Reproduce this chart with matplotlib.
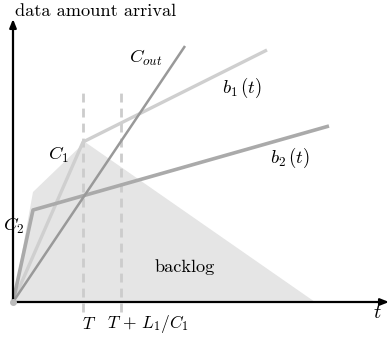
import matplotlib
matplotlib.use("Agg")
import matplotlib.pyplot as plt

plt.rcParams['mathtext.fontset'] = 'cm'
plt.rcParams['font.family'] = ['cmr10', 'DejaVu Serif']

# curves (t, data amount), origin at (0, 0)
b1_t = [0, 70, 254]
b1_y = [0, 160, 252]
b2_t = [0, 20, 316]
b2_y = [0, 92, 176]
cout_t = [0, 172]
cout_y = [0, 256]
backlog_t = [0, 20, 72, 302]
backlog_y = [0, 110, 160, 0]
T = 70
T_L = 108

fig = plt.figure(figsize=(3.9, 3.4), dpi=100)
ax = fig.add_axes([0, 0, 1, 1])
ax.set_xlim(-13, 377)
ax.set_ylim(-38, 302)
ax.axis('off')

ax.fill(backlog_t, backlog_y, color='#e5e5e5', lw=0, zorder=1)

for x in (T, T_L):
    ax.plot([x, x], [-10, 212], color='#cccccc', lw=2, ls=(0, (3.2, 2.2)), zorder=2)

ax.plot(b1_t, b1_y, color='#cfcfcf', lw=2.4, solid_capstyle='butt', zorder=3)
ax.plot(b2_t, b2_y, color='#aaaaaa', lw=2.6, solid_capstyle='butt', zorder=4)
ax.plot(cout_t, cout_y, color='#999999', lw=1.8, solid_capstyle='butt', zorder=5)

# axes arrows
arr = dict(arrowstyle='-|>,head_length=0.5,head_width=0.2', color='black', lw=1.6,
           shrinkA=0, shrinkB=0)
ax.annotate('', xy=(0, 283), xytext=(0, 0), arrowprops=arr, zorder=6)
ax.annotate('', xy=(376, 0), xytext=(0, 0), arrowprops=arr, zorder=6)
ax.plot([0], [0], 'o', color='#bbbbbb', ms=4, zorder=7)

fs = 13.5
ax.text(2, 291, 'data amount arrival', fontsize=13.2, ha='left', va='center')
ax.text(133, 244, r'$C_{out}$', fontsize=fs, ha='center', va='center')
ax.text(229, 214, r'$b_1\,(t)$', fontsize=fs, ha='center', va='center')
ax.text(277, 144, r'$b_2\,(t)$', fontsize=fs, ha='center', va='center')
ax.text(45, 147, r'$C_1$', fontsize=fs, ha='center', va='center')
ax.text(1, 76, r'$C_2$', fontsize=fs, ha='center', va='center')
ax.text(172, 35, 'backlog', fontsize=13.2, ha='center', va='center')
ax.text(76, -22, r'$T$', fontsize=fs - 1, ha='center', va='center')
ax.text(135, -22, r'$T\,+\,L_1/C_1$', fontsize=fs - 1, ha='center', va='center')
ax.text(364, -11, r'$t$', fontsize=fs + 1, ha='center', va='center')

fig.savefig('out.png', dpi=100, facecolor='white')
